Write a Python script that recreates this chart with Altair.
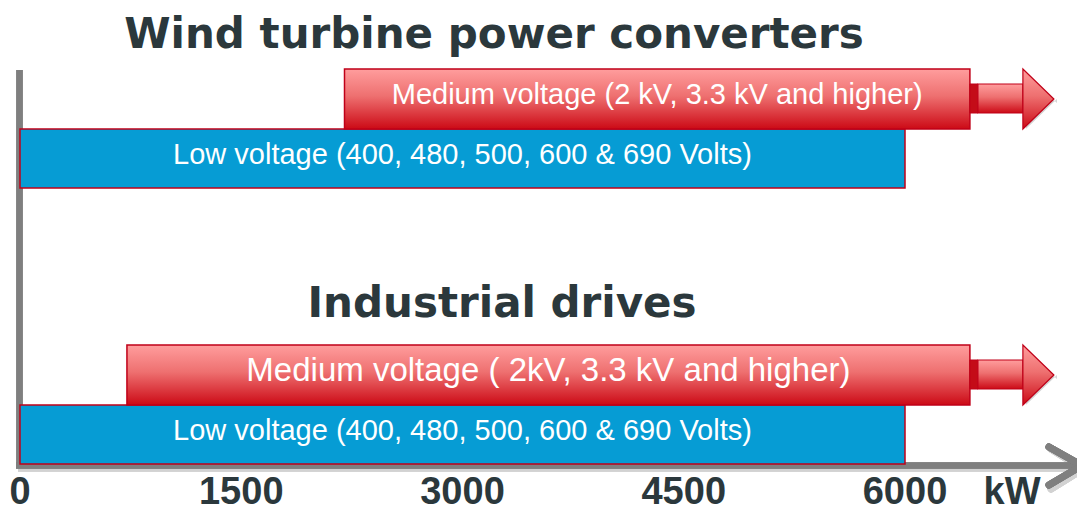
import altair as alt
import pandas as pd

# ---------------- data ----------------
groups = ["Wind turbine power converters", "Wind turbine power converters",
          "Industrial drives", "Industrial drives"]
levels = ["Medium voltage", "Low voltage", "Medium voltage", "Low voltage"]
labels = ["Medium voltage (2 kV, 3.3 kV and higher)",
          "Low voltage (400, 480, 500, 600 & 690 Volts)",
          "Medium voltage ( 2kV, 3.3 kV and higher)",
          "Low voltage (400, 480, 500, 600 & 690 Volts)"]
start_kw = [2200, 0, 725, 0]
end_kw = [6440, 6000, 6440, 6000]
open_ended = [True, False, True, False]
tick_values = [0, 1500, 3000, 4500, 6000]
unit_label = "kW"

# ---------------- layout ----------------
W, H = 1069, 496
PX_PER_KW = 885 / 6000.0
X0 = 12  # pixel of 0 kW inside the plot
x_scale = alt.Scale(domain=[-X0 / PX_PER_KW, (W - X0) / PX_PER_KW], nice=False, zero=False)
y_scale = alt.Scale(domain=[8, 504], reverse=True, nice=False, zero=False)
GROUP_TOP = {"Wind turbine power converters": 69, "Industrial drives": 345}
TITLE_POS = {"Wind turbine power converters": (486, 40), "Industrial drives": (494, 309)}
FONT = "Liberation Sans"
TITLE_FONT = "DejaVu Sans"
DARK = "#2b383c"
RED_STROKE = "#c00018"
BLUE = "#069cd4"
GRAY = "#7f7f7f"
SHADOW = "#d2d2d2"

red_grad = alt.Gradient(
    gradient="linear", x1=0, x2=0, y1=0, y2=1,
    stops=[alt.GradientStop(color="#ff9d9d", offset=0),
           alt.GradientStop(color="#ee7070", offset=0.45),
           alt.GradientStop(color="#cc0a16", offset=1)])

rows, heads, shafts, conns = [], [], [], []
for g, lv, lab, s, e, op in zip(groups, levels, labels, start_kw, end_kw, open_ended):
    mv = lv == "Medium voltage"
    top = GROUP_TOP[g] + (0 if mv else 60)
    bot = top + (60 if mv else 59)
    rows.append(dict(group=g, level=lv, label=lab, x=s, x2=e, y=top, y2=bot,
                     xm=(s + e) / 2, ym=(top + bot) / 2,
                     fs=33 if (mv and g == "Industrial drives") else 29))
    if op:
        mid = (top + bot) / 2
        c_end = e + 8 / PX_PER_KW
        h_start = e + 53 / PX_PER_KW
        tip = e + 84 / PX_PER_KW
        conns.append(dict(group=g, x=e, x2=c_end, y=mid - 15, y2=mid + 14))
        shafts.append(dict(group=g, x=c_end, x2=h_start, y=mid - 15, y2=mid + 14))
        heads.append(dict(group=g, x=h_start, y=top, y2=bot))
        heads.append(dict(group=g, x=tip, y=mid, y2=mid))

bars = pd.DataFrame(rows)
conn_df = pd.DataFrame(conns)
shaft_df = pd.DataFrame(shafts)
head_df = pd.DataFrame(heads)
ticks_df = pd.DataFrame({"v": tick_values, "t": [str(v) for v in tick_values]})
titles_df = pd.DataFrame({"title": list(dict.fromkeys(groups))})
titles_df["px"] = [TITLE_POS[t][0] for t in titles_df["title"]]
titles_df["py"] = [TITLE_POS[t][1] for t in titles_df["title"]]

X = lambda f="x": alt.X(f"{f}:Q", scale=x_scale, axis=None)
X2 = lambda f="x2": alt.X2(f"{f}:Q")
Y = lambda f="y": alt.Y(f"{f}:Q", scale=y_scale, axis=None)
Y2 = lambda f="y2": alt.Y2(f"{f}:Q")

base_bars = alt.Chart(bars)
mv_bars = base_bars.transform_filter(alt.datum.level == "Medium voltage")
lv_bars = base_bars.transform_filter(alt.datum.level == "Low voltage")

# axes (decorative lines)
y_axis = alt.Chart(bars).mark_rule(color=GRAY, strokeWidth=6).encode(
    x=alt.value(11.5), y=alt.value(62), y2=alt.value(460))
x_axis_sh = alt.Chart(bars).mark_rule(color=SHADOW, strokeWidth=5).encode(
    x=alt.value(10), x2=alt.value(1070), y=alt.value(461), y2=alt.value(461))
x_axis = alt.Chart(bars).mark_rule(color=GRAY, strokeWidth=6).encode(
    x=alt.value(8), x2=alt.value(1072), y=alt.value(457.5), y2=alt.value(457.5))
chev_sh1 = alt.Chart(bars).mark_rule(color=SHADOW, strokeWidth=7, strokeCap="round").encode(
    x=alt.value(1043), y=alt.value(441), x2=alt.value(1075), y2=alt.value(461))
chev_sh2 = alt.Chart(bars).mark_rule(color=SHADOW, strokeWidth=7, strokeCap="round").encode(
    x=alt.value(1075), y=alt.value(461), x2=alt.value(1043), y2=alt.value(481))
chev1 = alt.Chart(bars).mark_rule(color=GRAY, strokeWidth=7, strokeCap="round").encode(
    x=alt.value(1041), y=alt.value(439), x2=alt.value(1074), y2=alt.value(457.5))
chev2 = alt.Chart(bars).mark_rule(color=GRAY, strokeWidth=7, strokeCap="round").encode(
    x=alt.value(1074), y=alt.value(457.5), x2=alt.value(1041), y2=alt.value(477))

# shadows
bar_sh = base_bars.mark_rect(color=SHADOW, xOffset=3, yOffset=4).encode(
    x=X(), x2=X2(), y=Y(), y2=Y2())
shaft_sh = alt.Chart(shaft_df).mark_rect(color=SHADOW, xOffset=3, yOffset=4).encode(
    x=X(), x2=X2(), y=Y(), y2=Y2())
head_sh = alt.Chart(head_df).mark_area(color=SHADOW, orient="vertical", xOffset=3, yOffset=4).encode(
    x=X(), y=Y(), y2=Y2(), detail="group:N")

lv = lv_bars.mark_rect(fill=BLUE, stroke=RED_STROKE, strokeWidth=1.5).encode(
    x=X(), x2=X2(), y=Y(), y2=Y2())
mv = mv_bars.mark_rect(fill=red_grad, stroke=RED_STROKE, strokeWidth=1.5).encode(
    x=X(), x2=X2(), y=Y(), y2=Y2())
conn = alt.Chart(conn_df).mark_rect(fill="#c40c18", stroke=RED_STROKE, strokeWidth=1).encode(
    x=X(), x2=X2(), y=Y(), y2=Y2())
shaft = alt.Chart(shaft_df).mark_rect(fill=red_grad, stroke=RED_STROKE, strokeWidth=1.2).encode(
    x=X(), x2=X2(), y=Y(), y2=Y2())
head = alt.Chart(head_df).mark_area(fill=red_grad, stroke=RED_STROKE, strokeWidth=1.2,
                                     orient="vertical").encode(
    x=X(), y=Y(), y2=Y2(), detail="group:N")

bar_text = base_bars.mark_text(color="white", font=FONT, baseline="middle", align="center",
                               dy=-4).encode(
    x=X("xm"), y=Y("ym"), text="label:N", size=alt.Size("fs:Q", scale=None, legend=None))

titles = alt.Chart(titles_df).mark_text(font=TITLE_FONT, fontWeight="bold", fontSize=42, color=DARK,
                                        baseline="alphabetic", align="center").encode(
    x=alt.X("px:Q", scale=None, axis=None), y=alt.Y("py:Q", scale=None, axis=None), text="title:N")

tick_text = alt.Chart(ticks_df).mark_text(font=FONT, fontWeight="bold", fontSize=38, color=DARK,
                                          baseline="alphabetic", align="center").encode(
    x=X("v"), y=alt.value(496), text="t:N")
unit_text = alt.Chart(ticks_df).transform_filter(alt.datum.v == 0).mark_text(
    font=FONT, fontWeight="bold", fontSize=38, color=DARK, baseline="alphabetic",
    align="center", text=unit_label).encode(x=alt.value(1004), y=alt.value(496))

chart = alt.layer(
    y_axis, x_axis_sh, chev_sh1, chev_sh2, x_axis, chev1, chev2,
    bar_sh, shaft_sh, head_sh,
    lv, mv, conn, shaft, head,
    bar_text, titles, tick_text, unit_text,
).resolve_scale(x="shared", y="shared").properties(
    width=W, height=H, autosize=alt.AutoSizeParams(type="none"),
    padding={"left": 0, "top": 0, "right": 0, "bottom": 8},
    background="white",
).configure_view(stroke=None)

chart.save("out.html", embed_options={"renderer": "svg", "actions": False})
